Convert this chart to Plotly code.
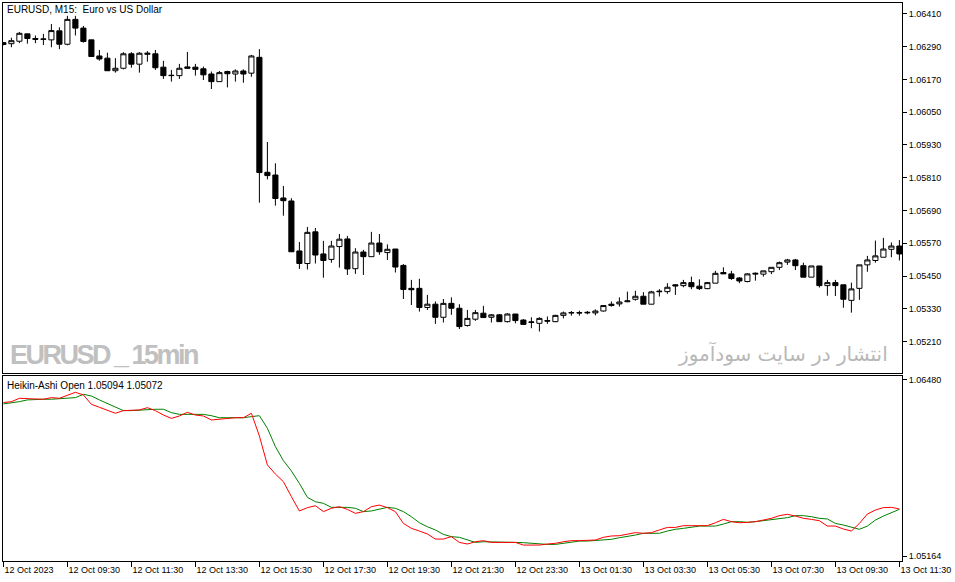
import pandas as pd
import plotly.graph_objects as go
from plotly.subplots import make_subplots

# EURUSD M15 bars, 12 Oct 2023 07:30 -> 13 Oct 2023 11:30
times = pd.date_range("2023-10-12 07:30", periods=113, freq="15min")

opens = [
    1.06298, 1.06301, 1.06310, 1.06337, 1.06320, 1.06317, 1.06315, 1.06348, 1.06299, 1.06390,
    1.06358, 1.06315, 1.06256, 1.06248, 1.06202, 1.06211, 1.06264, 1.06226, 1.06262, 1.06264,
    1.06215, 1.06184, 1.06184, 1.06216, 1.06215, 1.06209, 1.06190, 1.06162, 1.06199, 1.06190,
    1.06201, 1.06193, 1.06251, 1.05830, 1.05820, 1.05736, 1.05725, 1.05542, 1.05496, 1.05612,
    1.05531, 1.05511, 1.05558, 1.05586, 1.05477, 1.05538, 1.05521, 1.05571, 1.05536, 1.05549,
    1.05489, 1.05405, 1.05405, 1.05335, 1.05347, 1.05299, 1.05350, 1.05332, 1.05269, 1.05292,
    1.05314, 1.05299, 1.05308, 1.05283, 1.05311, 1.05289, 1.05280, 1.05277, 1.05287, 1.05283,
    1.05306, 1.05315, 1.05316, 1.05315, 1.05315, 1.05322, 1.05342, 1.05348, 1.05356, 1.05365,
    1.05376, 1.05347, 1.05395, 1.05393, 1.05418, 1.05415, 1.05426, 1.05413, 1.05404, 1.05424,
    1.05463, 1.05458, 1.05443, 1.05430, 1.05457, 1.05457, 1.05466, 1.05482, 1.05501, 1.05509,
    1.05488, 1.05446, 1.05487, 1.05415, 1.05426, 1.05418, 1.05361, 1.05405, 1.05491, 1.05507,
    1.05519, 1.05548, 1.05560,
]
highs = [
    1.06307, 1.06323, 1.06344, 1.06337, 1.06331, 1.06337, 1.06373, 1.06361, 1.06403, 1.06403,
    1.06366, 1.06315, 1.06278, 1.06268, 1.06248, 1.06270, 1.06270, 1.06270, 1.06274, 1.06278,
    1.06238, 1.06205, 1.06227, 1.06271, 1.06227, 1.06217, 1.06199, 1.06201, 1.06202, 1.06207,
    1.06207, 1.06260, 1.06281, 1.05941, 1.05863, 1.05780, 1.05735, 1.05575, 1.05630, 1.05626,
    1.05579, 1.05579, 1.05604, 1.05597, 1.05552, 1.05546, 1.05612, 1.05604, 1.05566, 1.05549,
    1.05494, 1.05436, 1.05440, 1.05381, 1.05357, 1.05366, 1.05372, 1.05347, 1.05326, 1.05326,
    1.05341, 1.05311, 1.05311, 1.05314, 1.05311, 1.05292, 1.05299, 1.05299, 1.05302, 1.05308,
    1.05320, 1.05322, 1.05323, 1.05322, 1.05328, 1.05344, 1.05357, 1.05372, 1.05393, 1.05396,
    1.05391, 1.05396, 1.05402, 1.05424, 1.05420, 1.05436, 1.05448, 1.05438, 1.05428, 1.05469,
    1.05482, 1.05469, 1.05446, 1.05460, 1.05463, 1.05469, 1.05482, 1.05503, 1.05513, 1.05513,
    1.05499, 1.05487, 1.05487, 1.05436, 1.05436, 1.05418, 1.05426, 1.05491, 1.05524, 1.05580,
    1.05590, 1.05573, 1.05582,
]
lows = [
    1.06295, 1.06288, 1.06303, 1.06301, 1.06303, 1.06296, 1.06288, 1.06281, 1.06295, 1.06331,
    1.06305, 1.06254, 1.06239, 1.06202, 1.06195, 1.06207, 1.06213, 1.06195, 1.06235, 1.06205,
    1.06172, 1.06162, 1.06172, 1.06211, 1.06184, 1.06168, 1.06135, 1.06162, 1.06141, 1.06162,
    1.06158, 1.06180, 1.05719, 1.05804, 1.05708, 1.05671, 1.05539, 1.05476, 1.05474, 1.05496,
    1.05444, 1.05499, 1.05481, 1.05454, 1.05458, 1.05454, 1.05521, 1.05528, 1.05509, 1.05463,
    1.05366, 1.05344, 1.05320, 1.05326, 1.05275, 1.05280, 1.05308, 1.05256, 1.05265, 1.05286,
    1.05298, 1.05280, 1.05283, 1.05280, 1.05277, 1.05273, 1.05259, 1.05247, 1.05275, 1.05281,
    1.05295, 1.05305, 1.05305, 1.05310, 1.05306, 1.05320, 1.05338, 1.05338, 1.05354, 1.05360,
    1.05347, 1.05347, 1.05375, 1.05385, 1.05381, 1.05409, 1.05402, 1.05399, 1.05402, 1.05424,
    1.05458, 1.05436, 1.05424, 1.05427, 1.05433, 1.05448, 1.05457, 1.05472, 1.05491, 1.05472,
    1.05446, 1.05446, 1.05408, 1.05378, 1.05377, 1.05334, 1.05316, 1.05363, 1.05466, 1.05499,
    1.05519, 1.05519, 1.05507,
]
closes = [
    1.06305, 1.06312, 1.06339, 1.06320, 1.06317, 1.06318, 1.06349, 1.06299, 1.06390, 1.06358,
    1.06309, 1.06254, 1.06245, 1.06202, 1.06211, 1.06264, 1.06226, 1.06266, 1.06266, 1.06213,
    1.06184, 1.06185, 1.06211, 1.06211, 1.06207, 1.06187, 1.06162, 1.06195, 1.06191, 1.06201,
    1.06190, 1.06256, 1.05829, 1.05818, 1.05734, 1.05726, 1.05539, 1.05496, 1.05610, 1.05527,
    1.05507, 1.05560, 1.05585, 1.05476, 1.05538, 1.05521, 1.05571, 1.05539, 1.05548, 1.05483,
    1.05401, 1.05400, 1.05335, 1.05347, 1.05299, 1.05350, 1.05332, 1.05265, 1.05295, 1.05316,
    1.05298, 1.05308, 1.05283, 1.05311, 1.05287, 1.05273, 1.05282, 1.05295, 1.05285, 1.05306,
    1.05315, 1.05316, 1.05315, 1.05317, 1.05322, 1.05342, 1.05347, 1.05355, 1.05359, 1.05376,
    1.05347, 1.05392, 1.05393, 1.05409, 1.05414, 1.05426, 1.05411, 1.05404, 1.05426, 1.05460,
    1.05458, 1.05441, 1.05432, 1.05458, 1.05460, 1.05469, 1.05482, 1.05499, 1.05509, 1.05488,
    1.05446, 1.05487, 1.05415, 1.05426, 1.05415, 1.05365, 1.05403, 1.05491, 1.05509, 1.05524,
    1.05549, 1.05560, 1.05531,
]

# Heikin-Ashi Open indicator, two buffers (red and green)
ha_red = [
    1.06311, 1.06318, 1.06343, 1.06343, 1.06338, 1.06336, 1.06348, 1.06343, 1.06365, 1.06388,
    1.06368, 1.06298, 1.06276, 1.06251, 1.06231, 1.06251, 1.06251, 1.06256, 1.06273, 1.06251,
    1.06218, 1.06193, 1.06211, 1.06238, 1.06218, 1.06211, 1.06181, 1.06188, 1.06193, 1.06198,
    1.06198, 1.06231, 1.06061, 1.05845, 1.05777, 1.05720, 1.05608, 1.05501, 1.05526, 1.05540,
    1.05496, 1.05521, 1.05533, 1.05513, 1.05483, 1.05496, 1.05533, 1.05545, 1.05526, 1.05496,
    1.05408, 1.05371, 1.05351, 1.05329, 1.05291, 1.05291, 1.05309, 1.05266, 1.05254, 1.05271,
    1.05279, 1.05266, 1.05266, 1.05266, 1.05266, 1.05246, 1.05246, 1.05246, 1.05254, 1.05259,
    1.05271, 1.05279, 1.05279, 1.05279, 1.05284, 1.05304, 1.05314, 1.05316, 1.05326, 1.05339,
    1.05334, 1.05339, 1.05359, 1.05378, 1.05378, 1.05391, 1.05391, 1.05391, 1.05391, 1.05413,
    1.05438, 1.05421, 1.05413, 1.05416, 1.05421, 1.05433, 1.05446, 1.05466, 1.05476, 1.05463,
    1.05446, 1.05438, 1.05428, 1.05388, 1.05388, 1.05366, 1.05351, 1.05408, 1.05478, 1.05508,
    1.05526, 1.05528, 1.05516,
]
ha_green = [
    1.06301, 1.06308, 1.06318, 1.06331, 1.06336, 1.06336, 1.06336, 1.06341, 1.06343, 1.06348,
    1.06373, 1.06360, 1.06331, 1.06306, 1.06281, 1.06251, 1.06251, 1.06256, 1.06256, 1.06261,
    1.06261, 1.06236, 1.06223, 1.06223, 1.06223, 1.06223, 1.06213, 1.06198, 1.06198, 1.06198,
    1.06198, 1.06206, 1.06213, 1.06119, 1.05982, 1.05877, 1.05800, 1.05707, 1.05603, 1.05570,
    1.05558, 1.05528, 1.05528, 1.05528, 1.05521, 1.05496, 1.05501, 1.05516, 1.05528, 1.05521,
    1.05496, 1.05458, 1.05413, 1.05383, 1.05359, 1.05326, 1.05309, 1.05304, 1.05284, 1.05266,
    1.05271, 1.05271, 1.05271, 1.05266, 1.05266, 1.05264, 1.05259, 1.05251, 1.05251, 1.05251,
    1.05259, 1.05271, 1.05276, 1.05276, 1.05279, 1.05284, 1.05289, 1.05301, 1.05309, 1.05321,
    1.05334, 1.05334, 1.05334, 1.05351, 1.05364, 1.05371, 1.05378, 1.05388, 1.05388, 1.05388,
    1.05403, 1.05421, 1.05421, 1.05416, 1.05421, 1.05428, 1.05433, 1.05441, 1.05451, 1.05466,
    1.05466, 1.05458, 1.05446, 1.05441, 1.05408, 1.05396, 1.05378, 1.05364, 1.05388, 1.05433,
    1.05463, 1.05488, 1.05513,
]

price_ticks = [1.06410, 1.06290, 1.06170, 1.06050, 1.05930, 1.05810,
               1.05690, 1.05570, 1.05450, 1.05330, 1.05210]
ind_ticks = [1.06480, 1.05164]
time_labels = [
    "12 Oct 2023", "12 Oct 09:30", "12 Oct 11:30", "12 Oct 13:30", "12 Oct 15:30",
    "12 Oct 17:30", "12 Oct 19:30", "12 Oct 21:30", "12 Oct 23:30", "13 Oct 01:30",
    "13 Oct 03:30", "13 Oct 05:30", "13 Oct 07:30", "13 Oct 09:30", "13 Oct 11:30",
]

fig = make_subplots(rows=2, cols=1, vertical_spacing=0.01, row_heights=[0.67, 0.33])

fig.add_trace(
    go.Candlestick(
        x=times,
        open=opens,
        high=highs,
        low=lows,
        close=closes,
        increasing=dict(line=dict(color="black", width=1), fillcolor="white"),
        decreasing=dict(line=dict(color="black", width=1), fillcolor="black"),
        whiskerwidth=0,
        name="EURUSD",
    ),
    row=1, col=1,
)

fig.add_trace(
    go.Scatter(x=times, y=ha_green, mode="lines", line=dict(color="#008000", width=1), name="HA green"),
    row=2, col=1,
)
fig.add_trace(
    go.Scatter(x=times, y=ha_red, mode="lines", line=dict(color="#ff0000", width=1), name="HA red"),
    row=2, col=1,
)

# x range so that bar spacing matches the terminal (first bar sits on the left border)
step = pd.Timedelta(minutes=15)
x_range = [times[0] - step * 0.05, times[0] + step * 112.325]

frame = dict(showline=True, linecolor="black", linewidth=1, mirror=True,
             showgrid=False, zeroline=False)
tick_font = dict(family="Liberation Sans, Arial, sans-serif", size=9, color="black")

fig.update_xaxes(range=x_range, **frame)
fig.update_xaxes(showticklabels=False, ticks="", row=1, col=1)
fig.update_xaxes(
    tickvals=list(times[::8]), ticktext=time_labels,
    ticks="outside", ticklen=5, tickcolor="black",
    ticklabelposition="outside right", tickfont=tick_font,
    row=2, col=1,
)
fig.update_yaxes(side="right", ticks="outside", ticklen=4, tickcolor="black",
                 tickfont=tick_font, **frame)
fig.update_yaxes(range=[1.05095, 1.06450], tickvals=price_ticks,
                 ticktext=[f"{v:.5f}" for v in price_ticks], row=1, col=1)
fig.update_yaxes(range=[1.05127, 1.06506], tickvals=ind_ticks,
                 ticktext=[f"{v:.5f}" for v in ind_ticks], row=2, col=1)

fig.update_layout(
    width=955,
    height=582,
    margin=dict(l=3, r=53, t=3, b=21),
    plot_bgcolor="white",
    paper_bgcolor="white",
    showlegend=False,
    boxgap=0.2,
    boxgroupgap=0.2,
    xaxis_rangeslider_visible=False,
    yaxis=dict(domain=[0.33692, 1.0]),
    yaxis2=dict(domain=[0.0, 0.33065]),
    font=dict(family="Liberation Sans, Arial, sans-serif", color="black"),
)

fig.add_annotation(
    text="EURUSD, M15:\u00a0 Euro vs US Dollar", xref="paper", yref="paper",
    x=0.0022, y=0.9875, xanchor="left", yanchor="middle", showarrow=False,
    font=dict(size=10, color="black"),
)
fig.add_annotation(
    text="Heikin-Ashi Open 1.05094 1.05072", xref="paper", yref="paper",
    x=0.0022, y=0.3154, xanchor="left", yanchor="middle", showarrow=False,
    font=dict(size=10, color="black"),
)
# watermarks (narrow bold look via tighter letter spacing)
fig.add_annotation(
    text="<span style='letter-spacing:-2.5px'><b>EURUSD _ 15min</b></span>",
    xref="paper", yref="paper",
    x=0.0056, y=0.370, xanchor="left", yanchor="middle", showarrow=False,
    font=dict(family="Liberation Sans, Arial, sans-serif", size=27, color="#c0c0c0"),
)
fig.add_annotation(
    text="انتشار در سایت سودآموز", xref="paper", yref="paper",
    x=0.9867, y=0.371, xanchor="right", yanchor="middle", showarrow=False,
    font=dict(family="DejaVu Sans, Noto Sans, sans-serif", size=20, color="#b8b8b8"),
)

fig.write_html("out.html", config={"displayModeBar": False},
               post_script="document.body.style.margin='0';")
